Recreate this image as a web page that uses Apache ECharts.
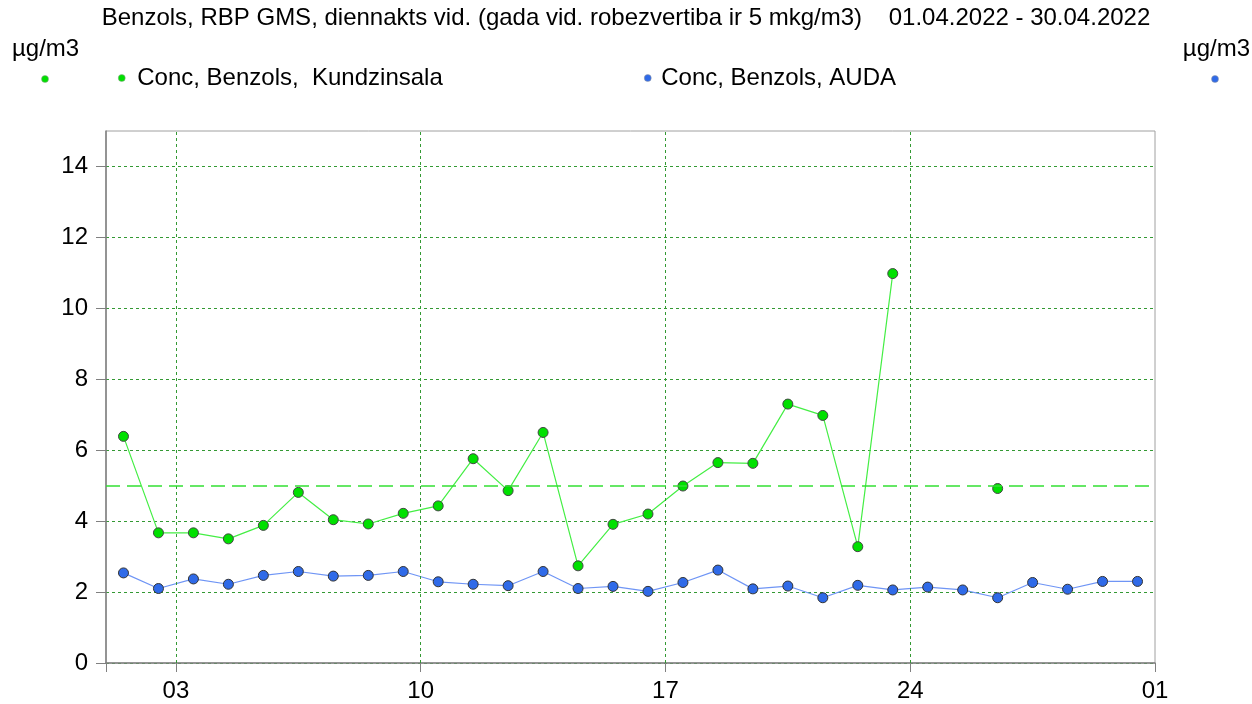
<!DOCTYPE html>
<html>
<head>
    <meta charset="utf-8">
    <title>Benzols</title>
    <script src="https://cdn.jsdelivr.net/npm/echarts@6/dist/echarts.min.js"></script>
    <style>
        body { margin: 0; background: #fff; }
    </style>
</head>
<body>
	<div id="main" style="width: 1252px;height:704px;"></div>
	<script type="text/javascript">
	  // daily means, April 2022 (day of month -> value, null = no data)
	  var days = [1,2,3,4,5,6,7,8,9,10,11,12,13,14,15,16,17,18,19,20,21,22,23,24,25,26,27,28,29,30];
	  var kundzinsala = [6.39,3.67,3.67,3.50,3.88,4.81,4.04,3.92,4.22,4.43,5.76,4.86,6.50,2.74,3.91,
	                     4.20,4.99,5.65,5.63,7.30,6.98,3.28,10.98,null,null,4.92,null,null,null,null];
	  var auda = [2.54,2.10,2.37,2.22,2.47,2.58,2.45,2.47,2.58,2.29,2.22,2.18,2.58,2.10,2.16,
	              2.02,2.27,2.62,2.09,2.17,1.84,2.19,2.06,2.14,2.06,1.84,2.27,2.08,2.30,2.30];
	  var limitValue = 5;
	  var yTicks = [0,2,4,6,8,10,12,14];
	  var xLabelDays = [3,10,17,24,31];   // 31 = 01.05

	  var fontName = 'Liberation Sans';
	  var gridGreen = '#339933';
	  var limitStyle = { color: '#33e033', type: [14, 7], width: 1.5, opacity: 1 };
	  function ts(d, h) { return new Date(2022, 3, d, h || 0).getTime(); }
	  function pairs(vals) {
		return days.map(function (d, i) { return [ts(d, 12), vals[i]]; });
	  }
	  var labelTs = xLabelDays.map(function (d) { return ts(d); });
	  var tickTs = [ts(1)].concat(labelTs);
	  var vGrid = labelTs.slice(0, 4);
	  var txt = { fontSize: 24, fontWeight: 'normal', color: '#000', fontFamily: fontName };

	  var myChart = echarts.init(document.getElementById('main'));
	  var option = {
		animation: false,
		textStyle: { fontFamily: fontName },
		title: [
		  { text: 'Benzols, RBP GMS, diennakts vid. (gada vid. robezvertiba ir 5 mkg/m3)    01.04.2022 - 30.04.2022',
			left: 'center', top: 6, padding: 0, textStyle: txt },
		  { text: 'µg/m3', left: 12, top: 37, padding: 0, textStyle: txt },
		  { text: 'µg/m3', right: 2, top: 37, padding: 0, textStyle: txt }
		],
		graphic: [
		  { type: 'circle', shape: { cx: 45, cy: 79, r: 3.5 }, style: { fill: '#00e000', stroke: '#999', lineWidth: 0.5 } },
		  { type: 'circle', shape: { cx: 1215, cy: 79, r: 3.5 }, style: { fill: '#2f6ae8', stroke: '#999', lineWidth: 0.5 } }
		],
		legend: [
		  { data: ['Conc, Benzols,  Kundzinsala'], left: 118, top: 66, padding: 0, icon: 'circle',
			itemWidth: 7, itemHeight: 7, itemStyle: { borderWidth: 0.5, borderColor: '#999' },
			textStyle: { fontSize: 24, color: '#000', fontFamily: fontName, padding: [0, 0, 0, 7] } },
		  { data: ['Conc, Benzols, AUDA'], left: 644, top: 66, padding: 0, icon: 'circle',
			itemWidth: 7, itemHeight: 7, itemStyle: { borderWidth: 0.5, borderColor: '#999' },
			textStyle: { fontSize: 24, color: '#000', fontFamily: fontName, padding: [0, 0, 0, 5] } }
		],
		grid: {
		  left: 106, right: 97, top: 131, bottom: 41,
		  show: true, borderColor: '#a0a0a0', borderWidth: 1
		},
		xAxis: {
		  type: 'value',
		  min: ts(1), max: ts(31),
		  axisLine: { lineStyle: { color: '#808080', width: 1.5 } },
		  axisTick: { length: 9, customValues: tickTs, lineStyle: { color: '#808080' } },
		  axisLabel: {
			customValues: labelTs, fontSize: 24, color: '#000', margin: 16,
			formatter: function (v) { var d = new Date(v).getDate(); return (d < 10 ? '0' : '') + d; }
		  },
		  splitLine: { show: false }
		},
		yAxis: {
		  type: 'value', min: 0, max: 15, interval: 2,
		  axisLine: { show: true, lineStyle: { color: '#808080', width: 1.5 } },
		  axisTick: { show: true, length: 10, customValues: yTicks, lineStyle: { color: '#808080' } },
		  axisLabel: { customValues: yTicks, fontSize: 24, color: '#000', margin: 18 },
		  splitLine: { lineStyle: { color: gridGreen, type: [3, 3], width: 1 } }
		},
		series: [
		  {
			name: 'Conc, Benzols,  Kundzinsala',
			type: 'line',
			data: pairs(kundzinsala),
			symbol: 'circle', symbolSize: 10, showAllSymbol: true,
			lineStyle: { color: '#44ee44', width: 1.2 },
			itemStyle: { color: '#00e000', borderColor: '#444', borderWidth: 1 },
			z: 3
		  },
		  {
			name: 'Conc, Benzols, AUDA',
			type: 'line',
			data: pairs(auda),
			symbol: 'circle', symbolSize: 10, showAllSymbol: true,
			lineStyle: { color: '#6f95f5', width: 1.2 },
			itemStyle: { color: '#2f6ae8', borderColor: '#333', borderWidth: 1 },
			markLine: {
			  silent: true, symbol: 'none', label: { show: false },
			  emphasis: { disabled: true },
			  lineStyle: { color: gridGreen, type: [3, 3], width: 1 },
			  data: vGrid.map(function (t) { return { xAxis: t }; }).concat([
				{ yAxis: limitValue, lineStyle: limitStyle }
			  ])
			},
			z: 2
		  }
		]
	  };
	  myChart.setOption(option);
	</script>
</body>
</html>
